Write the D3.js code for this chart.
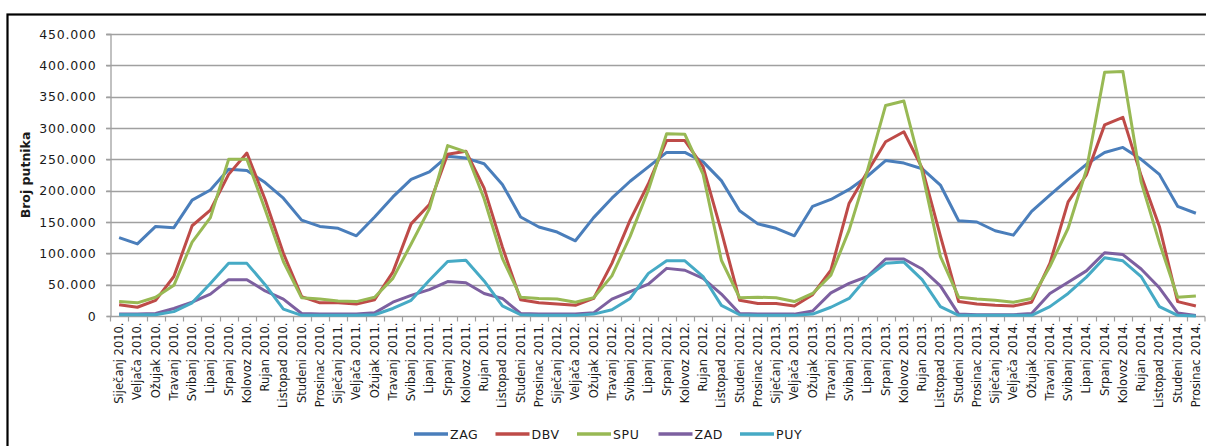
<!DOCTYPE html>
<html>
<head>
<meta charset="utf-8">
<script src="https://cdn.jsdelivr.net/npm/d3@7"></script>
<style>
  html, body { margin: 0; padding: 0; background: #fff; }
  svg { display: block; }
  text { font-family: "DejaVu Sans", sans-serif; fill: #1a1a1a; }
</style>
</head>
<body>
<svg id="chart" width="1206" height="446"></svg>
<script>
const monthNames = ["Siječanj","Veljača","Ožujak","Travanj","Svibanj","Lipanj","Srpanj","Kolovoz","Rujan","Listopad","Studeni","Prosinac"];
const years = [2010, 2011, 2012, 2013, 2014];
const categories = years.flatMap(yr => monthNames.map(m => `${m} ${yr}.`));

const seriesNames = ["ZAG", "DBV", "SPU", "ZAD", "PUY"];
const seriesColors = ["#4A7EBB", "#BE4B48", "#98B954", "#7D60A0", "#46AAC5"];

const ZAG = [
  125000,115000,143000,141000,185000,201000,234000,232000,213000,188000,153000,143000,
  140000,128000,158000,190000,218000,230000,255000,252000,243000,210000,158000,142000,
  134000,120000,157000,188000,215000,238000,261000,261000,246000,216000,168000,147000,
  140000,128000,175000,186000,202000,223000,248000,244000,235000,209000,152000,150000,
  136000,129000,167000,193000,218000,242000,261000,269000,250000,226000,175000,164000
];
const DBV = [
  18000,14000,25000,63000,144000,169000,226000,260000,186000,100000,31000,21000,
  21000,19000,26000,70000,147000,178000,258000,263000,204000,110000,26000,21000,
  19000,17000,28000,84000,153000,211000,280000,280000,238000,135000,25000,20000,
  20000,16000,34000,73000,180000,230000,278000,294000,236000,128000,23000,19000,
  17000,16000,22000,84000,182000,225000,305000,317000,224000,143000,23000,16000
];
const SPU = [
  23000,21000,30000,49000,118000,157000,250000,250000,170000,87000,29000,27000,
  24000,23000,30000,60000,115000,171000,272000,262000,187000,92000,30000,28000,
  27000,22000,29000,64000,127000,201000,291000,290000,226000,89000,29000,30000,
  29000,23000,36000,65000,137000,232000,336000,343000,230000,95000,30000,27000,
  25000,22000,28000,79000,140000,233000,389000,390000,214000,117000,30000,32000
];
const ZAD = [
  3000,3000,4000,12000,22000,35000,58000,58000,40000,27000,4000,3000,
  3000,3000,5000,22000,33000,42000,55000,53000,36000,28000,4000,3000,
  3000,3000,5000,27000,39000,51000,76000,73000,60000,35000,4000,3000,
  3000,3000,8000,37000,52000,63000,91000,91000,75000,48000,3000,2000,
  2000,2000,4000,36000,54000,72000,101000,98000,75000,45000,5000,1000
];
const PUY = [
  2000,2000,2000,7000,21000,52000,84000,84000,50000,11000,1000,1000,
  1000,1000,2000,12000,25000,57000,87000,89000,56000,16000,2000,1000,
  1000,1000,3000,10000,28000,68000,88000,88000,63000,17000,2000,1000,
  1000,1000,3000,14000,28000,62000,84000,86000,58000,15000,1000,1000,
  1000,1000,1000,15000,36000,62000,93000,88000,63000,15000,1000,0
];
const yTicks = [0,50000,100000,150000,200000,250000,300000,350000,400000,450000];
const yTitle = "Broj putnika";

const seriesValues = [ZAG, DBV, SPU, ZAD, PUY];

const svg = d3.select("#chart");
const plotLeft = 110, plotRight = 1205, plotTop = 34, plotBottom = 316;

// outer frame
svg.append("rect")
  .attr("x", 7.5).attr("y", 14.5).attr("width", 1220).attr("height", 460)
  .attr("fill", "none").attr("stroke", "#000").attr("stroke-width", 2.2);

const x = d3.scaleBand().domain(categories).range([plotLeft, plotRight]).padding(0);
const y = d3.scaleLinear().domain([0, 450000]).range([plotBottom, plotTop]);
const cx = d => x(d) + x.bandwidth() / 2;

// gridlines
svg.append("g").selectAll("line").data(yTicks.slice(1)).join("line")
  .attr("x1", plotLeft - 4).attr("x2", plotRight)
  .attr("y1", d => Math.round(y(d)) + 0.5).attr("y2", d => Math.round(y(d)) + 0.5)
  .attr("stroke", "#a0a0a0").attr("stroke-width", 1.3);

// y axis
const fmt = d => d === 0 ? "0" : d3.format(",")(d).replace(/,/g, ".");
const yAxis = svg.append("g").attr("transform", `translate(${plotLeft + 0.5},0)`)
  .call(d3.axisLeft(y).tickValues(yTicks).tickFormat(fmt).tickSize(4).tickPadding(10));
yAxis.select(".domain").attr("stroke", "#a0a0a0").attr("stroke-width", 1.3);
yAxis.selectAll(".tick line").attr("stroke", "#a0a0a0").attr("stroke-width", 1.3);
yAxis.selectAll(".tick text")
  .style("font-family", "'DejaVu Sans', sans-serif")
  .style("font-size", "12.5px").style("letter-spacing", "0.8px").attr("fill", "#1a1a1a");

// x axis
const xAxis = svg.append("g").attr("transform", `translate(0,${plotBottom + 0.5})`);
xAxis.append("line").attr("x1", plotLeft).attr("x2", plotRight).attr("y1", 0).attr("y2", 0)
  .attr("stroke", "#a0a0a0").attr("stroke-width", 1.3);
xAxis.selectAll("line.tk").data(categories.concat([null])).join("line").attr("class", "tk")
  .attr("x1", d => d === null ? plotRight : Math.round(x(d)) + 0.5)
  .attr("x2", d => d === null ? plotRight : Math.round(x(d)) + 0.5)
  .attr("y1", 0).attr("y2", 5)
  .attr("stroke", "#a0a0a0").attr("stroke-width", 1.2);
xAxis.selectAll("text.lbl").data(categories).join("text").attr("class", "lbl")
  .attr("transform", d => `translate(${cx(d) + 4},6) rotate(-90)`)
  .attr("text-anchor", "end")
  .style("font-size", "11.5px")
  .text(d => d);

// y title
svg.append("text")
  .attr("transform", `translate(30,175) rotate(-90)`)
  .attr("text-anchor", "middle")
  .style("font-size", "12.5px").style("font-weight", "bold")
  .text(yTitle);

// lines
const line = d3.line().x((v, i) => cx(categories[i])).y(v => y(v));
svg.append("g").selectAll("path").data(seriesValues).join("path")
  .attr("d", d => line(d))
  .attr("fill", "none")
  .attr("stroke", (d, i) => seriesColors[i])
  .attr("stroke-width", 3)
  .attr("stroke-linejoin", "round");

// legend
const legend = svg.append("g").attr("transform", "translate(414,434)");
const item = legend.selectAll("g").data(seriesNames).join("g")
  .attr("transform", (d, i) => `translate(${i * 81.5},0)`);
item.append("line").attr("x1", 0).attr("x2", 34).attr("y1", 0).attr("y2", 0)
  .attr("stroke", (d, i) => seriesColors[i]).attr("stroke-width", 3.5);
item.append("text").attr("x", 36).attr("y", 4.5)
  .style("font-size", "12.5px").style("letter-spacing", "0.6px")
  .text(d => d);
</script>
</body>
</html>
